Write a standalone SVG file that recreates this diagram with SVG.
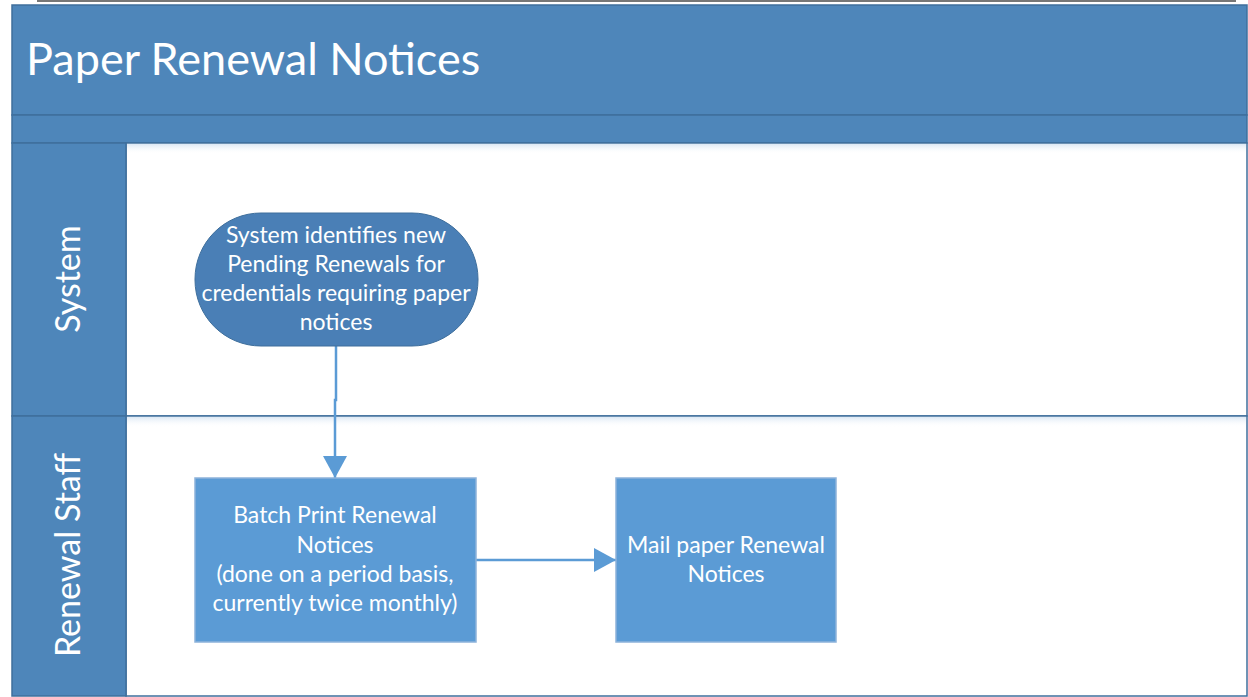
<svg xmlns="http://www.w3.org/2000/svg" width="1248" height="697" viewBox="0 0 1248 697">
  <defs>
    <style>
      .band { fill: #4E86BA; stroke: #3F6F9C; stroke-width: 1.5; }
      .lane { fill: #FFFFFF; stroke: #3F6F9C; stroke-width: 1.5; }
      .title { font-family: Lato, "Liberation Sans", sans-serif; font-size: 45px; fill: #FFFFFF; }
      .lanelabel { font-family: Lato, "Liberation Sans", sans-serif; font-size: 34px; fill: #FFFFFF; text-anchor: middle; }
      .label { font-family: Lato, "Liberation Sans", sans-serif; font-size: 23px; fill: #FFFFFF; text-anchor: middle; }
      .terminal { fill: #4A7FB6; stroke: #3F6F9C; stroke-width: 1; }
      .process { fill: #5B9BD5; stroke: #8DB3DA; stroke-width: 1.5; }
      .edge { fill: none; stroke: #5B9BD5; stroke-width: 2.5; }
    </style>
    <marker id="arrow" markerWidth="22" markerHeight="24" refX="22" refY="12" orient="auto" markerUnits="userSpaceOnUse" viewBox="0 0 22 24">
      <path d="M0,0 L22,12 L0,24 z" fill="#5B9BD5"/>
    </marker>
    <linearGradient id="shade" x1="0" y1="0" x2="0" y2="1">
      <stop offset="0" stop-color="#DCE8F4"/>
      <stop offset="1" stop-color="#FFFFFF" stop-opacity="0"/>
    </linearGradient>
  </defs>

  <rect width="1248" height="697" fill="#FFFFFF"/>
  <!-- top rule -->
  <line x1="37" y1="1" x2="1236" y2="1" stroke="#777777" stroke-width="2"/>

  <!-- pool header -->
  <g id="pool">
    <rect class="band" x="12" y="5" width="1235" height="110"/>
    <rect class="band" x="12" y="115" width="1235" height="28"/>
    <text class="title" x="26" y="75">Paper Renewal Notices</text>
  </g>

  <!-- lane: System -->
  <g id="lane-system">
    <rect class="lane" x="126" y="143" width="1121" height="273"/>
    <rect x="127" y="144" width="1119" height="10" fill="url(#shade)"/>
    <rect class="band" x="12" y="143" width="114" height="273"/>
    <text class="lanelabel" transform="translate(80,279) rotate(-90)">System</text>
  </g>

  <!-- lane: Renewal Staff -->
  <g id="lane-staff">
    <rect class="lane" x="126" y="416" width="1121" height="280"/>
    <rect x="127" y="417" width="1119" height="10" fill="url(#shade)"/>
    <rect class="band" x="12" y="416" width="114" height="280"/>
    <text class="lanelabel" transform="translate(80,555) rotate(-90)">Renewal Staff</text>
  </g>

  <!-- connectors -->
  <g id="connectors">
    <path class="edge" d="M336,346 L336,400 L335,400 L335,478" marker-end="url(#arrow)"/>
    <path class="edge" d="M476,560 L616,560" marker-end="url(#arrow)"/>
  </g>

  <g id="node-identify">
    <rect class="terminal" x="195" y="213" width="283" height="133" rx="66" ry="66"/>
    <text class="label" x="336" y="243">System identifies new</text>
    <text class="label" x="336" y="272">Pending Renewals for</text>
    <text class="label" x="336" y="301">credentials requiring paper</text>
    <text class="label" x="336" y="330">notices</text>
  </g>

  <g id="node-print">
    <rect class="process" x="195" y="478" width="281" height="164"/>
    <text class="label" x="335" y="523">Batch Print Renewal</text>
    <text class="label" x="335" y="553">Notices</text>
    <text class="label" x="335" y="582">(done on a period basis,</text>
    <text class="label" x="335" y="611">currently twice monthly)</text>
  </g>

  <g id="node-mail">
    <rect class="process" x="616" y="478" width="220" height="164"/>
    <text class="label" x="726" y="553">Mail paper Renewal</text>
    <text class="label" x="726" y="582">Notices</text>
  </g>
</svg>
